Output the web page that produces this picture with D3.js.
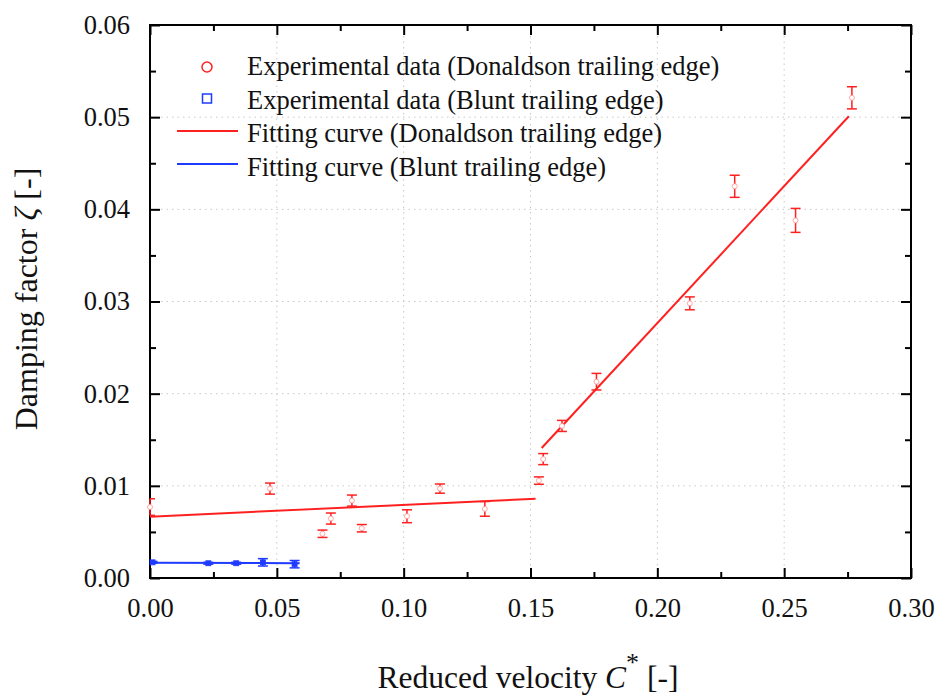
<!DOCTYPE html>
<html><head><meta charset="utf-8">
<script src="https://cdn.jsdelivr.net/npm/d3@7"></script>
<style>
body{margin:0;background:#fff;}
text{font-family:"Liberation Serif","Times New Roman",serif;}
</style></head>
<body><svg id="c" width="939" height="695"></svg>
<script>
// Donaldson trailing edge experimental data
const donX   = [0.000, 0.0473, 0.068, 0.0713, 0.0796, 0.0835, 0.1013, 0.1143, 0.132, 0.1533, 0.155, 0.1624, 0.176, 0.2128, 0.2305, 0.2545, 0.2767];
const donY   = [0.0077, 0.0097, 0.0048, 0.00645, 0.0084, 0.0054, 0.0067, 0.0097, 0.0075, 0.01057, 0.0129, 0.0165, 0.0213, 0.0298, 0.0425, 0.0388, 0.0521];
const donErr = [0.0009, 0.0006, 0.0004, 0.0006, 0.0006, 0.0004, 0.0007, 0.0005, 0.0008, 0.0004, 0.0006, 0.0006, 0.0009, 0.0007, 0.0012, 0.0013, 0.0012];
// Blunt trailing edge experimental data
const bluX   = [0.001, 0.023, 0.034, 0.0445, 0.057];
const bluY   = [0.0017, 0.0016, 0.0016, 0.0017, 0.0015];
const bluErr = [0.0001, 0.0001, 0.0001, 0.0004, 0.0004];
// Fitting curves
const fitDon1X = [0.000, 0.152];
const fitDon1Y = [0.00665, 0.0086];
const fitDon2X = [0.1544, 0.2755];
const fitDon2Y = [0.0141, 0.0501];
const fitBluX  = [0.000, 0.059];
const fitBluY  = [0.00165, 0.0016];
// Ticks
const xTicks = [0.00, 0.05, 0.10, 0.15, 0.20, 0.25, 0.30];
const yTicks = [0.00, 0.01, 0.02, 0.03, 0.04, 0.05, 0.06];
const xMinor = [0.025, 0.075, 0.125, 0.175, 0.225, 0.275];
const yMinor = [0.005, 0.015, 0.025, 0.035, 0.045, 0.055];
const legendLabels = ["Experimental data (Donaldson trailing edge)", "Experimental data (Blunt trailing edge)", "Fitting curve (Donaldson trailing edge)", "Fitting curve (Blunt trailing edge)"];

const RED = "#ff2020", BLUE = "#1f3bff";
const L = 150, R = 911, T = 25, B = 578;
const svg = d3.select("#c");
const x = d3.scaleLinear().domain([0, 0.30]).range([L, R]);
const y = d3.scaleLinear().domain([0, 0.06]).range([B, T]);

// grid
const g = svg.append("g");
g.selectAll(".gx").data(xTicks.slice(1, -1)).enter().append("line")
  .attr("x1", d => x(d)).attr("x2", d => x(d)).attr("y1", T).attr("y2", B)
  .attr("stroke", "#c8c8c8").attr("stroke-width", 1).attr("stroke-dasharray", "1.5,4");
g.selectAll(".gy").data(yTicks.slice(1, -1)).enter().append("line")
  .attr("y1", d => y(d)).attr("y2", d => y(d)).attr("x1", L).attr("x2", R)
  .attr("stroke", "#c8c8c8").attr("stroke-width", 1).attr("stroke-dasharray", "1.5,4");

// axes with inward ticks
function styleAxis(sel){
  sel.select(".domain").remove();
  sel.selectAll(".tick line").attr("stroke", "#000").attr("stroke-width", 2);
  sel.selectAll(".tick text").attr("font-size", 26.5).attr("fill", "#111").style("font-family", "Liberation Serif, serif");
}
const fmt = d3.format(".2f");
const xa = svg.append("g").attr("transform", `translate(0,${B})`)
  .call(d3.axisBottom(x).tickValues(xTicks).tickFormat(fmt).tickSizeInner(-10).tickSizeOuter(0).tickPadding(20));
styleAxis(xa);
const xam = svg.append("g").attr("transform", `translate(0,${B})`)
  .call(d3.axisBottom(x).tickValues(xMinor).tickFormat("").tickSizeInner(-6).tickSizeOuter(0));
styleAxis(xam);
const xt = svg.append("g").attr("transform", `translate(0,${T})`)
  .call(d3.axisTop(x).tickValues(xTicks).tickFormat("").tickSizeInner(-10).tickSizeOuter(0));
styleAxis(xt);
const xtm = svg.append("g").attr("transform", `translate(0,${T})`)
  .call(d3.axisTop(x).tickValues(xMinor).tickFormat("").tickSizeInner(-6).tickSizeOuter(0));
styleAxis(xtm);
const ya = svg.append("g").attr("transform", `translate(${L},0)`)
  .call(d3.axisLeft(y).tickValues(yTicks).tickFormat(fmt).tickSizeInner(-10).tickSizeOuter(0).tickPadding(20));
styleAxis(ya);
const yam = svg.append("g").attr("transform", `translate(${L},0)`)
  .call(d3.axisLeft(y).tickValues(yMinor).tickFormat("").tickSizeInner(-6).tickSizeOuter(0));
styleAxis(yam);
const yr = svg.append("g").attr("transform", `translate(${R},0)`)
  .call(d3.axisRight(y).tickValues(yTicks).tickFormat("").tickSizeInner(-10).tickSizeOuter(0));
styleAxis(yr);
const yrm = svg.append("g").attr("transform", `translate(${R},0)`)
  .call(d3.axisRight(y).tickValues(yMinor).tickFormat("").tickSizeInner(-6).tickSizeOuter(0));
styleAxis(yrm);
svg.append("rect").attr("x", L).attr("y", T).attr("width", R - L).attr("height", B - T)
  .attr("fill", "none").attr("stroke", "#000").attr("stroke-width", 2);

// fitting lines
const line = d3.line().x(d => x(d[0])).y(d => y(d[1]));
svg.append("path").datum(d3.zip(fitDon1X, fitDon1Y)).attr("d", line).attr("stroke", RED).attr("stroke-width", 2).attr("fill", "none");
svg.append("path").datum(d3.zip(fitDon2X, fitDon2Y)).attr("d", line).attr("stroke", RED).attr("stroke-width", 2).attr("fill", "none");
svg.append("path").datum(d3.zip(fitBluX, fitBluY)).attr("d", line).attr("stroke", BLUE).attr("stroke-width", 2).attr("fill", "none");

// error bars
function errBars(xs, ys, es, color){
  const data = xs.map((v, i) => ({x: v, y: ys[i], e: es[i]}));
  const gg = svg.append("g").attr("stroke", color).attr("stroke-width", 1.5);
  data.forEach(d => {
    const cx = x(d.x), y1 = y(d.y + d.e), y2 = y(d.y - d.e);
    gg.append("line").attr("x1", cx).attr("x2", cx).attr("y1", y1).attr("y2", y2);
    gg.append("line").attr("x1", Math.max(L, cx - 5)).attr("x2", cx + 5).attr("y1", y1).attr("y2", y1);
    gg.append("line").attr("x1", Math.max(L, cx - 5)).attr("x2", cx + 5).attr("y1", y2).attr("y2", y2);
  });
  return data;
}
const dd = errBars(donX, donY, donErr, RED);
svg.append("g").selectAll("circle").data(dd).enter().append("circle")
  .attr("cx", d => x(d.x)).attr("cy", d => y(d.y)).attr("r", 2.5)
  .attr("fill", "#fff").attr("stroke", "#ff9090").attr("stroke-width", 0.8);
const bd = errBars(bluX, bluY, bluErr, BLUE);
svg.append("g").selectAll("rect").data(bd).enter().append("rect")
  .attr("x", d => x(d.x) - 2.5).attr("y", d => y(d.y) - 2.5).attr("width", 5).attr("height", 5)
  .attr("fill", BLUE).attr("stroke", BLUE).attr("stroke-width", 0.8);

// legend
const lg = svg.append("g");
const rows = [67, 101, 134, 168];
lg.append("circle").attr("cx", 207).attr("cy", rows[0]).attr("r", 5).attr("fill", "none").attr("stroke", RED).attr("stroke-width", 1.5);
lg.append("rect").attr("x", 202.5).attr("y", rows[1] - 7).attr("width", 9).attr("height", 9).attr("fill", "none").attr("stroke", BLUE).attr("stroke-width", 1.5);
lg.append("line").attr("x1", 177).attr("x2", 238).attr("y1", rows[2] - 3).attr("y2", rows[2] - 3).attr("stroke", RED).attr("stroke-width", 2);
lg.append("line").attr("x1", 177).attr("x2", 238).attr("y1", rows[3] - 4).attr("y2", rows[3] - 4).attr("stroke", BLUE).attr("stroke-width", 2);
lg.selectAll("text").data(legendLabels).enter().append("text")
  .attr("x", 247).attr("y", (d, i) => rows[i] + 8).attr("font-size", 26.5).attr("fill", "#111").text(d => d);

// axis titles
const xtT = svg.append("text").attr("x", 528).attr("y", 688).attr("text-anchor", "middle").attr("font-size", 31.5).attr("fill", "#111");
xtT.append("tspan").text("Reduced velocity ");
xtT.append("tspan").attr("font-style", "italic").text("C");
xtT.append("tspan").attr("dy", -17).attr("font-size", 26).text("*");
xtT.append("tspan").attr("dy", 17).text(" [-]");
const ytT = svg.append("text").attr("transform", "translate(37,299) rotate(-90)").attr("text-anchor", "middle").attr("font-size", 32).attr("fill", "#111");
ytT.append("tspan").text("Damping factor ");
ytT.append("tspan").attr("font-style", "italic").text("ζ");
ytT.append("tspan").text(" [-]");
</script></body></html>
